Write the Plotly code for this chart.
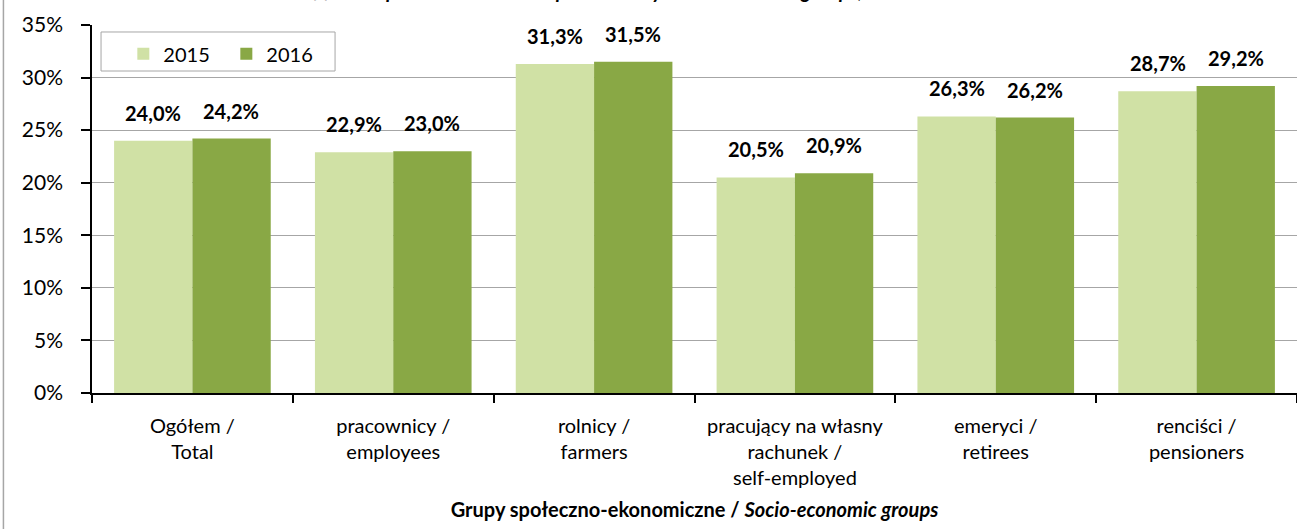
import plotly.graph_objects as go

categories = [
    "Ogółem /<br>Total",
    "pracownicy /<br>employees",
    "rolnicy /<br>farmers",
    "pracujący na własny<br>rachunek /<br>self-employed",
    "emeryci /<br>retirees",
    "renciści /<br>pensioners",
]
series_names = ["2015", "2016"]
values_2015 = [24.0, 22.9, 31.3, 20.5, 26.3, 28.7]
values_2016 = [24.2, 23.0, 31.5, 20.9, 26.2, 29.2]
y_ticks = [0, 5, 10, 15, 20, 25, 30, 35]
y_tick_labels = [f"{v}%" for v in y_ticks]

FONT = "Lato"
LIGHT = "#D0E1A5"
DARK = "#89A845"

fig = go.Figure()
for name, vals, col in [(series_names[0], values_2015, LIGHT), (series_names[1], values_2016, DARK)]:
    fig.add_trace(go.Bar(
        x=categories, y=vals, name=name,
        marker=dict(color=col, line=dict(width=0)),
    ))

annotations = []
for vals, shift in [(values_2015, -39), (values_2016, 39)]:
    for c, v in zip(categories, vals):
        annotations.append(dict(
            x=c, y=v, xref="x", yref="y", xshift=shift, yshift=14,
            yanchor="bottom", showarrow=False,
            text="<b>" + f"{v:.1f}%".replace(".", ",") + "</b>",
            font=dict(family=FONT, size=20, color="black"),
        ))

# clipped title (only descenders visible at top edge, as in the reference)
annotations.append(dict(
    x=0.43, y=1.0, xref="paper", yref="paper", yshift=21, yanchor="bottom",
    xanchor="center", showarrow=False,
    text="<b><i>Share of food expenditure in total expenditure by socio-economic groups, 2015–2016</i></b>",
    font=dict(family=FONT, size=20, color="black"),
))

shapes = [
    # outer chart border (left)
    dict(type="line", xref="paper", yref="paper", x0=-0.0735, x1=-0.0735, y0=-0.37, y1=1.07,
         line=dict(color="#A6A6A6", width=1.5)),
    # legend frame
    dict(type="rect", xref="paper", yref="paper", x0=0.0075, x1=0.2017, y0=0.875, y1=0.981,
         line=dict(color="#A6A6A6", width=1), fillcolor="white", layer="below"),
]

fig.update_layout(
    width=1297, height=529,
    margin=dict(l=92, r=0, t=25, b=136, autoexpand=False),
    paper_bgcolor="white", plot_bgcolor="white",
    barmode="group", bargap=0.22, bargroupgap=0,
    separators=", ",
    font=dict(family=FONT, size=20, color="black"),
    showlegend=True,
    legend=dict(orientation="h", x=0.026, y=0.975, xanchor="left", yanchor="top",
                bgcolor="rgba(0,0,0,0)", font=dict(family=FONT, size=20, color="black"),
                itemwidth=30, entrywidth=58),
    annotations=annotations,
    shapes=shapes,
)
fig.update_xaxes(
    showline=True, linecolor="black", linewidth=2,
    ticks="outside", tickson="boundaries", ticklen=8, tickcolor="black", tickwidth=1.5,
    tickfont=dict(family=FONT, size=20, color="black"),
    ticklabelstandoff=14,
    title=dict(text="<b>Grupy społeczno-ekonomiczne / <i>Socio-economic groups</i></b>",
               font=dict(family=FONT, size=20, color="black"), standoff=15),
    automargin=False,
)
fig.update_yaxes(
    range=[0, 35], tickvals=y_ticks, ticktext=y_tick_labels,
    showline=True, linecolor="black", linewidth=1.5,
    ticks="outside", ticklen=9, tickcolor="black", tickwidth=1.5,
    showgrid=True, gridcolor="#A6A6A6", gridwidth=1,
    zeroline=False,
    tickfont=dict(family=FONT, size=21, color="black"),
    ticklabelstandoff=14,
    automargin=False,
)

fig.write_html(
    "out.html",
    config={"displayModeBar": False},
    post_script="document.body.style.margin='0';document.body.style.overflow='hidden';",
)
